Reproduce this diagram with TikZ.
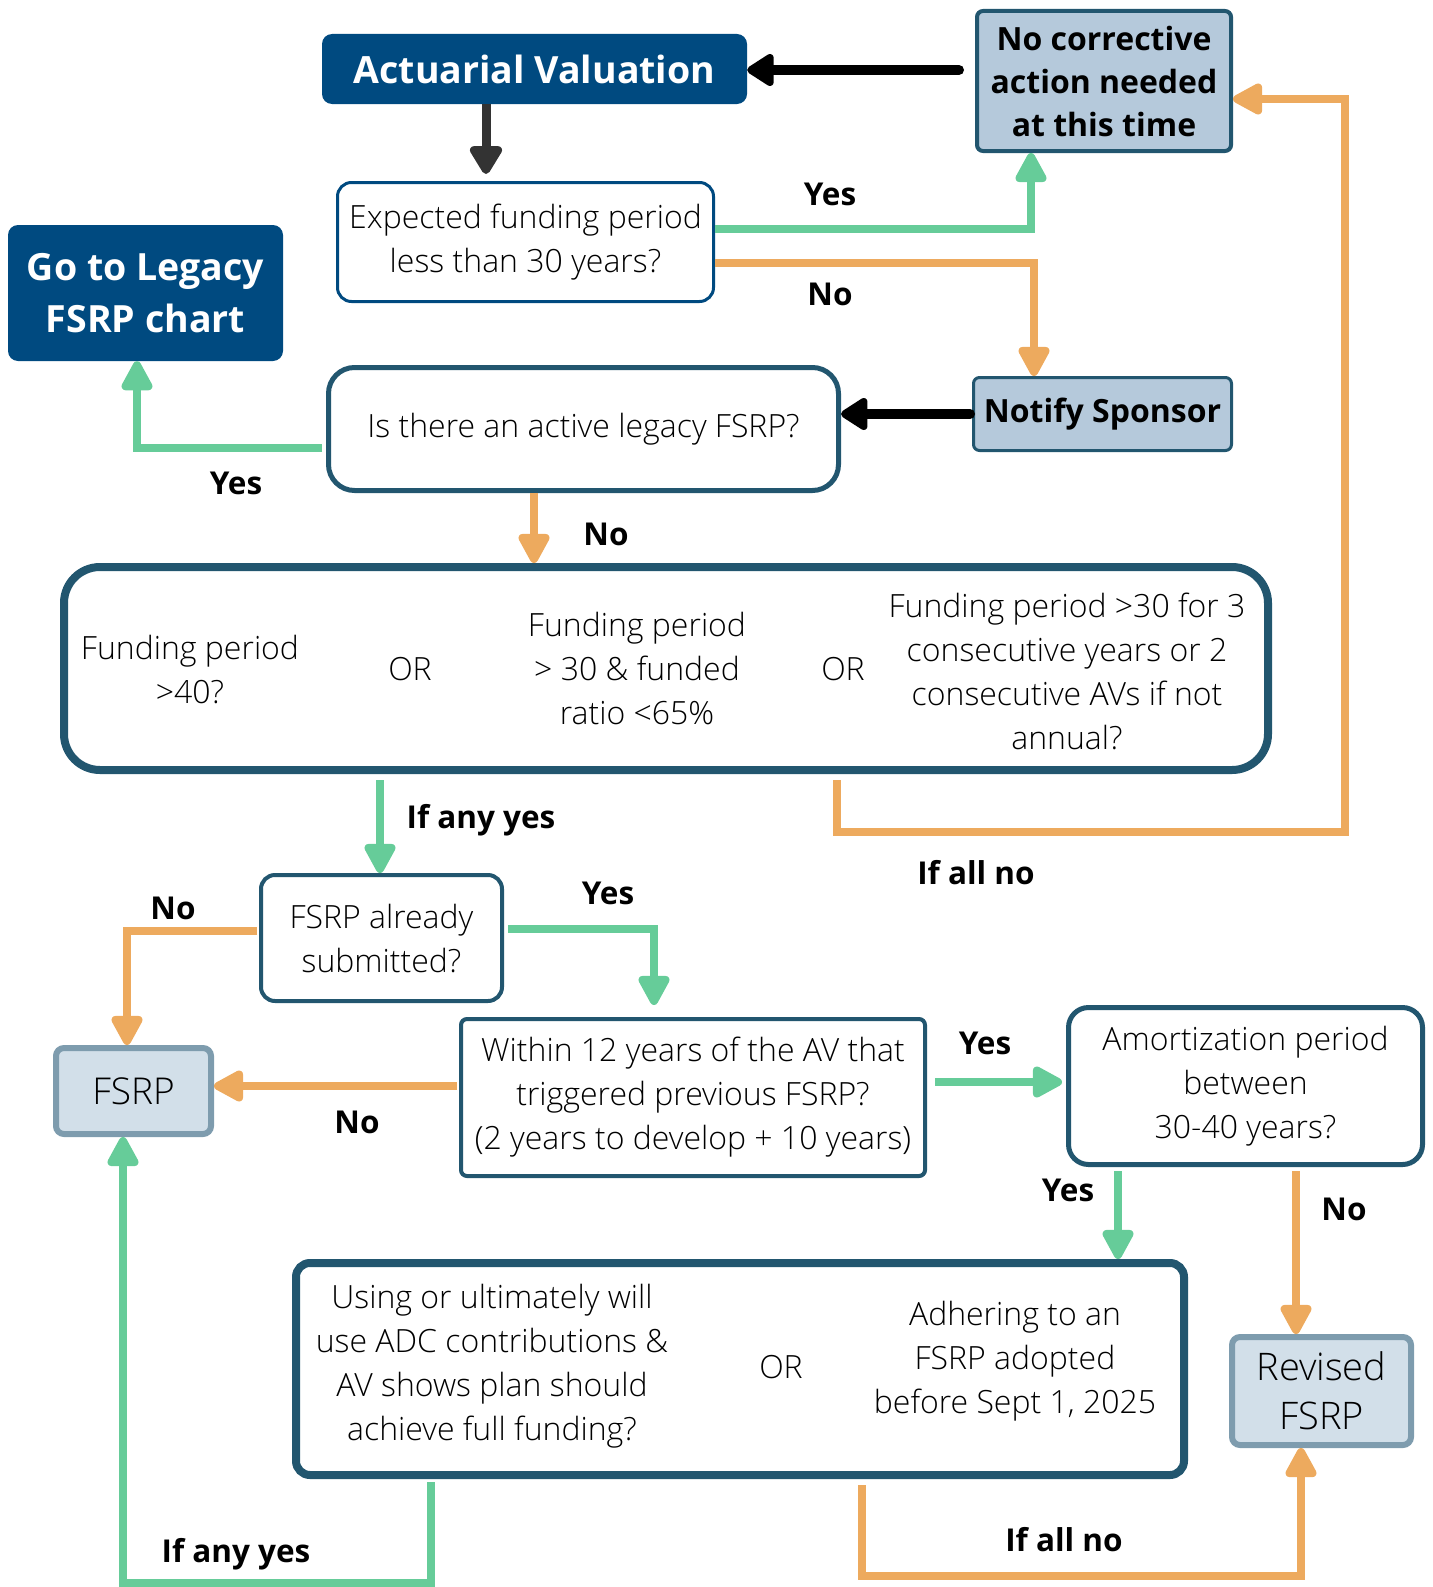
\documentclass[tikz,border=0pt]{standalone}
\usepackage{fontspec}
\setmainfont{Open Sans}
\newfontfamily\lightfont{Open Sans Light}
\usetikzlibrary{arrows.meta}
\definecolor{navy}{RGB}{0,74,128}
\definecolor{edge}{RGB}{34,86,111}
\definecolor{lblue}{RGB}{181,201,219}
\definecolor{pale}{RGB}{210,223,233}
\definecolor{slate}{RGB}{126,156,174}
\definecolor{grn}{RGB}{102,204,153}
\definecolor{org}{RGB}{237,170,94}
\definecolor{dgray}{RGB}{51,51,51}
\begin{document}
\begin{tikzpicture}[x=1pt,y=-1pt,
  body/.style={font=\lightfont\fontsize{32}{44}\selectfont, align=center, inner sep=0pt},
  qbox/.style={draw=edge, fill=white, line width=4pt, rounded corners=14pt, body},
  darkbox/.style={fill=navy, text=white, rounded corners=10pt, inner sep=0pt, align=center, font=\bfseries\fontsize{37.5}{52}\selectfont},
  lbox/.style={fill=lblue, draw=edge, line width=4pt, rounded corners=6pt, inner sep=0pt, align=center, font=\bfseries\fontsize{32}{43}\selectfont},
  fbox/.style={fill=pale, draw=slate, line width=6pt, rounded corners=8pt, body},
  lab/.style={font=\bfseries\fontsize{31.5}{36}\selectfont, inner sep=0pt},
  tip/.style={-{Triangle[width=34pt,length=34pt,round]}},
  garrow/.style={draw=grn, line width=8pt, tip},
  oarrow/.style={draw=org, line width=8pt, tip},
  gline/.style={draw=grn, line width=8pt},
  oline/.style={draw=org, line width=8pt},
  barrow/.style={draw=black, line width=10pt, line cap=round, -{Triangle[width=36pt,length=30pt,round]}},
]
\useasboundingbox (0,0) rectangle (1432,1587);

% nodes
\node[darkbox, minimum width=425pt, minimum height=70pt] (av) at (534.5,69) {Actuarial Valuation};
\node[lbox, minimum width=254pt, minimum height=140pt] (nca) at (1104,81) {No corrective\\action needed\\at this time};
\node[qbox, draw=navy, line width=3pt, minimum width=376pt, minimum height=119pt] (exp) at (525.5,242) {Expected funding period\\less than 30 years?};
\node[darkbox, minimum width=275pt, minimum height=136pt] (gol) at (145.5,293) {Go to Legacy\\FSRP chart};
\node[lbox, line width=3pt, minimum width=258pt, minimum height=73pt] (notify) at (1102.5,414) {Notify Sponsor};
\node[qbox, line width=5pt, rounded corners=26pt, minimum width=510pt, minimum height=123pt] (legacy) at (583.5,429) {Is there an active legacy FSRP?};
\node[draw=edge, line width=8pt, rounded corners=36pt, minimum width=1204pt, minimum height=203pt] (big) at (666,668.5) {};
\node[body] (c1) at (190,669) {Funding period\\>40?};
\node[body] (or1) at (410,669) {OR};
\node[body] (c2) at (637,669) {Funding period\\> 30 \& funded\\ratio <65\%};
\node[body] (or2) at (843,669) {OR};
\node[body] (c3) at (1067,671) {Funding period >30 for 3\\consecutive years or 2\\consecutive AVs if not\\annual?};
\node[qbox, minimum width=241pt, minimum height=126pt] (sub) at (381.5,938) {FSRP already\\submitted?};
\node[fbox, minimum width=155pt, minimum height=86pt, font=\lightfont\fontsize{37}{44}\selectfont] (fsrp) at (133.5,1091) {FSRP};
\node[qbox, rounded corners=6pt, minimum width=464pt, minimum height=157pt] (within) at (693,1097.5) {Within 12 years of the AV that\\triggered previous FSRP?\\(2 years to develop + 10 years)};
\node[qbox, line width=5pt, rounded corners=20pt, minimum width=354pt, minimum height=157pt] (amort) at (1245.5,1086) {Amortization period\\between\\30-40 years?};
\node[draw=edge, line width=8pt, rounded corners=14pt, minimum width=888pt, minimum height=212pt] (bottom) at (740,1369) {};
\node[body] (d1) at (492,1366) {Using or ultimately will\\use ADC contributions \&\\AV shows plan should\\achieve full funding?};
\node[body] (or3) at (781,1367) {OR};
\node[body] (d2) at (1015,1361) {Adhering to an\\FSRP adopted\\before Sept 1, 2025};
\node[fbox, minimum width=179pt, minimum height=108pt, font=\lightfont\fontsize{38}{49}\selectfont] (rev) at (1321.5,1391) {Revised\\FSRP};

% connectors
\draw[barrow, shorten <=16pt] (nca.west |- 0,70) -- (av.east |- 0,70);
\draw[draw=dgray, line width=9pt, -{Triangle[width=36pt,length=32pt,round]}, shorten >=7pt] (av.south -| 486,0) -- (exp.north -| 486,0);
\draw[garrow] (exp.east |- 0,229) -| (nca.south -| 1031,0);
\draw[oarrow] (exp.east |- 0,263) -| (notify.north -| 1034,0);
\draw[barrow, shorten <=2pt] (notify.west) -- (legacy.east |- notify.west);
\draw[garrow, shorten <=4pt] (legacy.west |- 0,448) -| (gol.south -| 137,0);
\draw[oarrow] (legacy.south -| 534,0) -- (big.north -| 534,0);
\draw[garrow, shorten <=6pt] (big.south -| 380,0) -- (sub.north -| 380,0);
\draw[oline, shorten <=6pt, -{Triangle[width=34pt,length=34pt,round]}] (big.south -| 837,0) |- (1345,832) |- (nca.east |- 0,99);
\draw[oarrow, shorten <=2pt] (sub.west |- 0,931) -| (fsrp.north -| 127,0);
\draw[garrow, shorten <=4pt, shorten >=12pt] (sub.east |- 0,929) -| (within.north -| 654,0);
\draw[oarrow, shorten <=2pt] (within.west |- 0,1086) -- (fsrp.east |- 0,1086);
\draw[garrow, shorten <=8pt, shorten >=4pt] (within.east |- 0,1082) -- (amort.west |- 0,1082);
\draw[garrow, shorten <=4pt] (amort.south -| 1118,0) -- (bottom.north -| 1118,0);
\draw[oarrow, shorten <=4pt] (amort.south -| 1296,0) -- (rev.north -| 1296,0);
\draw[garrow, shorten <=3pt] (bottom.south -| 431,0) |- (123,1583) -- (fsrp.south -| 123,0);
\draw[oarrow, shorten <=6pt] (bottom.south -| 862,0) |- (1301,1576) -- (rev.south -| 1301,0);

% labels
\node[lab] (l1) at (830,194) {Yes};
\node[lab] (l2) at (830,294) {No};
\node[lab] (l3) at (236,483) {Yes};
\node[lab] (l4) at (606,534) {No};
\node[lab] (l5) at (481,820) {If any yes};
\node[lab] (l6) at (976,873) {If all no};
\node[lab] (l7) at (173,908) {No};
\node[lab] (l8) at (608,893) {Yes};
\node[lab] (l9) at (357,1122) {No};
\node[lab] (l10) at (985,1043) {Yes};
\node[lab] (l11) at (1068,1190) {Yes};
\node[lab] (l12) at (1344,1209) {No};
\node[lab] (l13) at (236,1554) {If any yes};
\node[lab] (l14) at (1064,1540) {If all no};
\end{tikzpicture}
\end{document}
